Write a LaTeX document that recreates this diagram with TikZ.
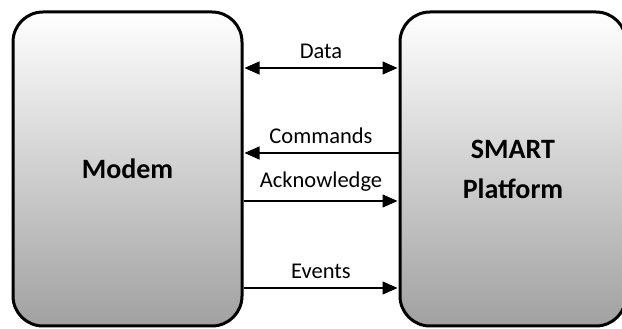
\documentclass[tikz,border=0pt]{standalone}
\usepackage{fontspec}
\setmainfont{Carlito}
\usetikzlibrary{positioning,arrows.meta,calc}
\tikzset{
  unitbox/.style={draw,line width=3pt,rounded corners=30pt,top color=white,bottom color=black!37,
    font=\fontsize{28}{32}\selectfont\bfseries,align=center,inner sep=0pt},
  link/.style={line width=1.1pt,-{Triangle[length=15pt,width=13pt]},shorten >=1pt},
  linklabel/.style={font=\fontsize{22.5}{26}\selectfont,above=7pt,inner sep=2pt},
}
\begin{document}
\begin{tikzpicture}[x=1pt,y=1pt]
\useasboundingbox (0,0) rectangle (622,329);

\node[unitbox,minimum width=229pt,minimum height=314pt] (modem) at (127.5,160) {Modem};
\node[unitbox,minimum width=226pt,minimum height=314pt] (smart) at (513,160) {SMART\\[8pt]Platform};

\draw[link,{Triangle[length=15pt,width=13pt]}-{Triangle[length=15pt,width=13pt]},shorten <=1pt]
  ([yshift=101pt]modem.east) -- node[linklabel] {Data} ([yshift=101pt]smart.west);
\draw[link] ([yshift=16pt]smart.west) -- node[linklabel] {Commands} ([yshift=16pt]modem.east);
\draw[link] ([yshift=-32pt]modem.east) -- node[linklabel] {Acknowledge} ([yshift=-32pt]smart.west);
\draw[link] ([yshift=-119pt]modem.east) -- node[linklabel] {Events} ([yshift=-119pt]smart.west);

\end{tikzpicture}
\end{document}
